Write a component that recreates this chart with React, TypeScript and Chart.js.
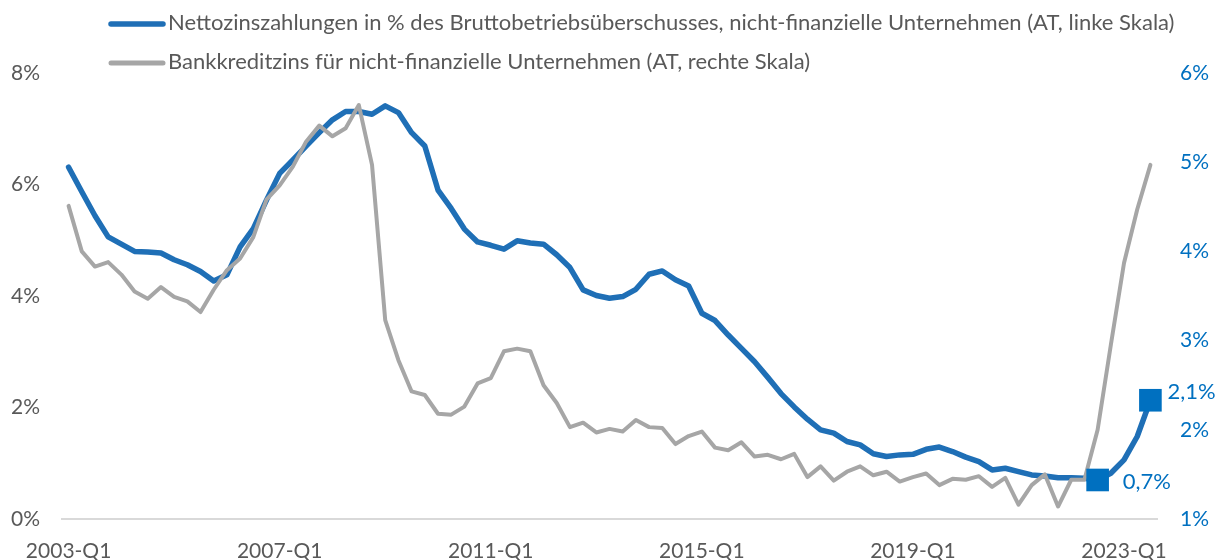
import React, { useEffect, useRef } from 'react';
import { Chart, registerables } from 'chart.js';

Chart.register(...registerables);

// Categories: quarters 2003-Q1 ... 2023-Q3
const firstYear = 2003;
const quarterCount = 83;
const categories: string[] = [];
for (let i = 0; i < quarterCount; i++) {
  categories.push(`${firstYear + Math.floor(i / 4)}-Q${(i % 4) + 1}`);
}

// Net interest payments in % of gross operating surplus (left axis)
const netInterest = [
  6.31, 5.87, 5.44, 5.06, 4.93, 4.80, 4.79, 4.77, 4.65, 4.56,
  4.44, 4.27, 4.38, 4.88, 5.21, 5.72, 6.20, 6.44, 6.69, 6.93,
  7.16, 7.31, 7.31, 7.26, 7.41, 7.29, 6.93, 6.69, 5.90, 5.57,
  5.20, 4.97, 4.91, 4.84, 4.99, 4.95, 4.93, 4.74, 4.51, 4.11,
  4.01, 3.96, 3.99, 4.12, 4.39, 4.45, 4.29, 4.18, 3.69, 3.56,
  3.30, 3.06, 2.82, 2.54, 2.25, 2.01, 1.79, 1.60, 1.54, 1.39,
  1.33, 1.17, 1.12, 1.15, 1.16, 1.25, 1.29, 1.21, 1.11, 1.03,
  0.88, 0.91, 0.85, 0.79, 0.77, 0.74, 0.74, 0.73, 0.70, 0.82,
  1.06, 1.48, 2.13,
];

// Bank lending rate for non-financial corporations (right axis)
const bankRate = [
  4.51, 4.00, 3.83, 3.88, 3.74, 3.55, 3.47, 3.60, 3.49, 3.44,
  3.32, 3.57, 3.79, 3.92, 4.16, 4.58, 4.74, 4.95, 5.23, 5.41,
  5.29, 5.38, 5.64, 4.97, 3.23, 2.78, 2.43, 2.39, 2.18, 2.17,
  2.26, 2.52, 2.58, 2.88, 2.91, 2.88, 2.50, 2.30, 2.03, 2.08,
  1.97, 2.01, 1.98, 2.11, 2.03, 2.02, 1.84, 1.93, 1.98, 1.80,
  1.77, 1.86, 1.70, 1.72, 1.67, 1.73, 1.47, 1.59, 1.43, 1.53,
  1.59, 1.49, 1.53, 1.42, 1.47, 1.51, 1.38, 1.45, 1.44, 1.48,
  1.36, 1.46, 1.16, 1.38, 1.50, 1.14, 1.44, 1.44, 2.00, 2.95,
  3.87, 4.47, 4.97,
];

// Highlighted (labelled) points of the net interest series
const highlighted = [78, 82];

const seriesNames = [
  'Nettozinszahlungen in % des Bruttobetriebsüberschusses, nicht-finanzielle Unternehmen (AT, linke Skala)',
  'Bankkreditzins für nicht-finanzielle Unternehmen (AT, rechte Skala)',
];

const BLUE_LINE = '#1f6fb6';
const BLUE_MARK = '#0070c0';
const GRAY_LINE = '#a6a6a6';
const TEXT_GRAY = '#595959';
const FONT = 'Lato, "Open Sans", sans-serif';

const markerValues = netInterest.map((v, i) => (highlighted.includes(i) ? v : null));

const legendPlugin = {
  id: 'customLegend',
  afterDraw(chart: any) {
    const ctx = chart.ctx;
    ctx.save();
    const rows = [
      { color: BLUE_LINE, y: 24, width: 5.5 },
      { color: GRAY_LINE, y: 63, width: 5 },
    ];
    rows.forEach((r, k) => {
      ctx.beginPath();
      ctx.lineCap = 'round';
      ctx.lineWidth = r.width;
      ctx.strokeStyle = r.color;
      ctx.moveTo(111, r.y);
      ctx.lineTo(163, r.y);
      ctx.stroke();
      ctx.fillStyle = TEXT_GRAY;
      ctx.font = `22px ${FONT}`;
      ctx.textBaseline = 'middle';
      ctx.textAlign = 'left';
      ctx.fillText(seriesNames[k], 168, r.y - 1);
    });
    ctx.restore();
  },
};

const labelOffsets: Record<number, { dx: number; dy: number }> = {
  78: { dx: 25, dy: 2 },
  82: { dx: 17, dy: -8 },
};

const dataLabelPlugin = {
  id: 'pointLabels',
  afterDatasetsDraw(chart: any) {
    const ctx = chart.ctx;
    const meta = chart.getDatasetMeta(0);
    ctx.save();
    ctx.fillStyle = BLUE_MARK;
    ctx.font = `22px ${FONT}`;
    ctx.textBaseline = 'middle';
    ctx.textAlign = 'left';
    highlighted.forEach((i) => {
      const el = meta.data[i];
      if (!el) return;
      const off = labelOffsets[i] || { dx: 20, dy: 0 };
      const txt = netInterest[i].toFixed(1).replace('.', ',') + '%';
      ctx.fillText(txt, el.x + off.dx, el.y + off.dy);
    });
    ctx.restore();
  },
};

export default function App() {
  const canvasRef = useRef<HTMLCanvasElement | null>(null);

  useEffect(() => {
    if (!canvasRef.current) return;
    const chart = new Chart(canvasRef.current, {
      type: 'line',
      data: {
        labels: categories,
        datasets: [
          {
            label: 'Marker',
            data: markerValues,
            yAxisID: 'y',
            showLine: false,
            pointStyle: 'rect',
            pointRadius: 16,
            pointHoverRadius: 16,
            pointBackgroundColor: BLUE_MARK,
            pointBorderColor: BLUE_MARK,
            pointBorderWidth: 0,
            order: 0,
          },
          {
            label: seriesNames[1],
            data: bankRate,
            yAxisID: 'y1',
            borderColor: GRAY_LINE,
            borderWidth: 4,
            pointRadius: 0,
            borderJoinStyle: 'round',
            borderCapStyle: 'round',
            tension: 0,
            order: 1,
          },
          {
            label: seriesNames[0],
            data: netInterest,
            yAxisID: 'y',
            borderColor: BLUE_LINE,
            borderWidth: 5.5,
            pointRadius: 0,
            borderJoinStyle: 'round',
            borderCapStyle: 'round',
            tension: 0,
            order: 2,
          },
        ],
      },
      options: {
        responsive: false,
        animation: false,
        events: [],
        layout: { padding: { top: 73, left: 0, right: 0, bottom: 0 } },
        plugins: {
          legend: { display: false },
          tooltip: { enabled: false },
        },
        scales: {
          x: {
            type: 'category',
            offset: true,
            grid: { display: false, drawTicks: false },
            border: { display: true, color: '#d9d9d9', width: 2 },
            ticks: {
              autoSkip: false,
              maxRotation: 0,
              minRotation: 0,
              padding: 20,
              color: TEXT_GRAY,
              font: { family: FONT, size: 21 },
              callback: (_v: any, i: number) => (i % 16 === 0 ? categories[i] : ''),
            },
            afterFit: (s: any) => {
              s.height = 41;
            },
          },
          y: {
            position: 'left',
            min: 0,
            max: 8,
            grid: { display: false, drawTicks: false },
            border: { display: false },
            ticks: {
              stepSize: 2,
              padding: 22,
              color: TEXT_GRAY,
              font: { family: FONT, size: 21 },
              callback: (v: any) => `${v}%`,
            },
            afterFit: (s: any) => {
              s.width = 62;
            },
          },
          y1: {
            position: 'right',
            min: 1,
            max: 6,
            grid: { display: false, drawTicks: false },
            border: { display: false },
            ticks: {
              stepSize: 1,
              padding: 23,
              color: BLUE_MARK,
              font: { family: FONT, size: 21 },
              callback: (v: any) => `${v}%`,
            },
            afterFit: (s: any) => {
              s.width = 64;
            },
          },
        },
      },
      plugins: [legendPlugin, dataLabelPlugin],
    });
    return () => chart.destroy();
  }, []);

  return (
    <div style={{ position: 'fixed', left: 0, top: 0, width: 1221, height: 560, background: '#fff' }}>
      <canvas ref={canvasRef} width={1221} height={560} style={{ width: 1221, height: 560 }} />
    </div>
  );
}
